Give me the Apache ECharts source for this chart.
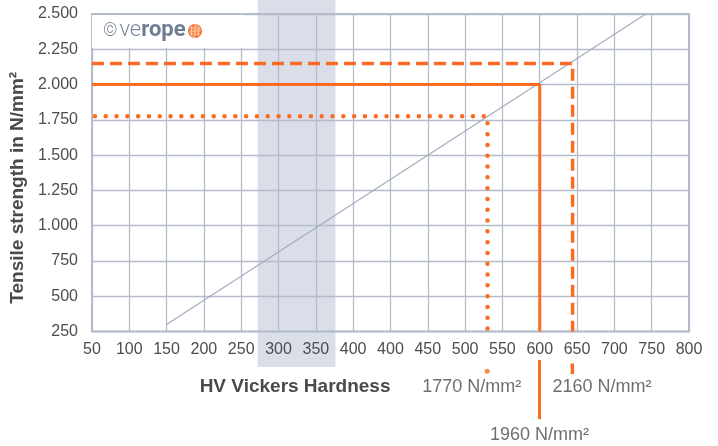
<!DOCTYPE html>
<html>
<head>
<meta charset="UTF-8">
<title>Tensile strength vs HV</title>
<script src="https://cdn.jsdelivr.net/npm/echarts@6/dist/echarts.min.js"></script>
</head>
<body style="margin:0">
<div id="box" style="width:718px;height:446px"></div>
<script>
// axis tick labels (the source chart really lists 400 twice)
var hvLabels = ['50', '100', '150', '200', '250', '300', '350', '400', '400', '450', '500', '550', '600', '650', '700', '750', '800'];
var strengthLabels = ['250', '500', '750', '1.000', '1.250', '1.500', '1.750', '2.000', '2.250', '2.500'];

// grey HV-to-strength reference line
var diagonalHV = [150, 742];
var diagonalStrength = [300, 2500];

// shaded hardness band
var bandHV = [273, 377];

// rope grades: dotted, solid, dashed
var gradeNames = ['1770 N/mm²', '1960 N/mm²', '2160 N/mm²'];
var gradeHV = [530, 600, 644];
var gradeStrength = [1775, 2000, 2150];

// position on the x axis (labels after the second 400 continue in steps of 50)
function pos(hv) {
    return hv <= 400 ? (hv - 50) / 50 : 8 + (hv - 400) / 50;
}

var orange = '#fd6a22';
var gridColor = '#b4bccb';
var font = 'Liberation Sans, Arial, sans-serif';

function gradeLine(i, lineStyle) {
    var x = pos(gradeHV[i]);
    return {
        type: 'line', symbol: 'none', z: 3,
        lineStyle: Object.assign({color: orange}, lineStyle),
        data: [[0, gradeStrength[i]], [x, gradeStrength[i]], [x, 250]]
    };
}

var myChart = echarts.init(document.getElementById('box'));
myChart.setOption({
    animation: false,
    grid: [
        {left: 91, right: 29, top: 14, bottom: 114.5, show: true, borderColor: gridColor, borderWidth: 2, z: 1},
        {left: 91, right: 29, top: 0, bottom: 0}
    ],
    xAxis: [{
        type: 'value', min: 0, max: 16, interval: 1, z: 1,
        name: 'HV Vickers Hardness', nameLocation: 'middle', nameGap: 55,
        nameTextStyle: {fontFamily: font, fontSize: 19, fontWeight: 'bold', color: '#4a4a4a', align: 'right', verticalAlign: 'middle'},
        axisLine: {show: false}, axisTick: {show: false},
        axisLabel: {
            margin: 10, fontFamily: font, fontSize: 16, color: '#4d4d4d',
            formatter: function (v) { return hvLabels[v]; }
        },
        splitLine: {lineStyle: {color: gridColor, width: 1.3}}
    }, {
        gridIndex: 1, type: 'value', min: 0, max: 16, show: false
    }],
    yAxis: [{
        type: 'value', min: 250, max: 2500, interval: 250, z: 1,
        name: 'Tensile strength in N/mm²', nameLocation: 'middle', nameGap: 69,
        nameTextStyle: {fontFamily: font, fontSize: 19, fontWeight: 'bold', color: '#4a4a4a', verticalAlign: 'middle', padding: [0, 30, 0, 0]},
        axisLine: {show: false}, axisTick: {show: false},
        axisLabel: {
            margin: 14, fontFamily: font, fontSize: 16, color: '#4d4d4d',
            formatter: function (v) { return strengthLabels[(v - 250) / 250]; }
        },
        splitLine: {lineStyle: {color: gridColor, width: 1.3}}
    }, {
        gridIndex: 1, type: 'value', min: -560, max: 2600, show: false
    }],
    graphic: [
        {type: 'rect', z: 10, left: 92, top: 15, shape: {width: 152, height: 33}, style: {fill: '#fff'}},
        {type: 'text', z: 11, left: 103, top: 19, style: {
            text: '{a|©}{b|ve}{c|rope}',
            rich: {
                a: {fontFamily: 'Roboto', fontSize: 18, fontWeight: 300, fill: '#7d899c', padding: [2, 2, 0, 0]},
                b: {fontFamily: 'Roboto', fontSize: 22, fontWeight: 300, fill: '#7d899c'},
                c: {fontFamily: 'Roboto', fontSize: 22, fontWeight: 'bold', fill: '#6f7d94'}
            }
        }},
        {type: 'circle', z: 11, shape: {cx: 195, cy: 31, r: 6.3}, style: {fill: '#fa8448', stroke: '#f26b28', lineWidth: 1.4}},
        {type: 'polyline', z: 12, shape: {points: [[191.5, 26], [191.5, 36], [195, 37.5], [195, 24.5], [198.5, 26], [198.5, 36]]}, style: {stroke: '#fcd2bb', lineWidth: 0.8, fill: null}},
        {type: 'polyline', z: 12, shape: {points: [[190, 28], [200, 28], [200, 31], [190, 31], [190, 34], [200, 34]]}, style: {stroke: '#fcd2bb', lineWidth: 0.8, fill: null}}
    ],
    series: [
        {
            type: 'line', xAxisIndex: 1, yAxisIndex: 1, symbol: 'none', z: 0,
            lineStyle: {width: 0}, data: [[pos(bandHV[0]), 0]],
            markArea: {
                silent: true, z: 0,
                itemStyle: {color: 'rgba(168,176,200,0.42)'},
                data: [[{xAxis: pos(bandHV[0]), yAxis: 0}, {xAxis: pos(bandHV[1]), yAxis: 2600}]]
            }
        },
        {
            type: 'line', symbol: 'none', z: 2,
            lineStyle: {color: '#a3acc0', width: 1.2},
            data: [[pos(diagonalHV[0]), diagonalStrength[0]], [pos(diagonalHV[1]), diagonalStrength[1]]]
        },
        gradeLine(0, {width: 4.5, type: [0, 10.8], cap: 'round', dashOffset: -3}),
        gradeLine(1, {width: 3}),
        gradeLine(2, {width: 3.5, type: [12, 6]}),
        // short continuations of the grade lines below the axis labels
        {
            type: 'scatter', xAxisIndex: 1, yAxisIndex: 1, symbolSize: 5, z: 3,
            itemStyle: {color: orange},
            data: [[pos(gradeHV[0]), -30]]
        },
        {
            type: 'line', xAxisIndex: 1, yAxisIndex: 1, symbol: 'none', z: 3,
            lineStyle: {color: orange, width: 3},
            data: [[pos(gradeHV[1]), 50], [pos(gradeHV[1]), -370]]
        },
        {
            type: 'line', xAxisIndex: 1, yAxisIndex: 1, symbol: 'none', z: 3,
            lineStyle: {color: orange, width: 3.5},
            data: [[pos(gradeHV[2]), 25], [pos(gradeHV[2]), -50]]
        },
        {
            type: 'scatter', xAxisIndex: 1, yAxisIndex: 1, symbolSize: 0, z: 4,
            label: {show: true, position: 'inside', fontFamily: font, fontSize: 18, color: '#4a4a4a', verticalAlign: 'middle'},
            data: [
                {value: [pos(gradeHV[0]), -140], label: {formatter: gradeNames[0], align: 'right', offset: [34, 0]}},
                {value: [pos(gradeHV[1]), -480], label: {formatter: gradeNames[1], align: 'center'}},
                {value: [pos(gradeHV[2]), -140], label: {formatter: gradeNames[2], align: 'left', offset: [-20, 0]}}
            ]
        }
    ]
});
</script>
</body>
</html>
